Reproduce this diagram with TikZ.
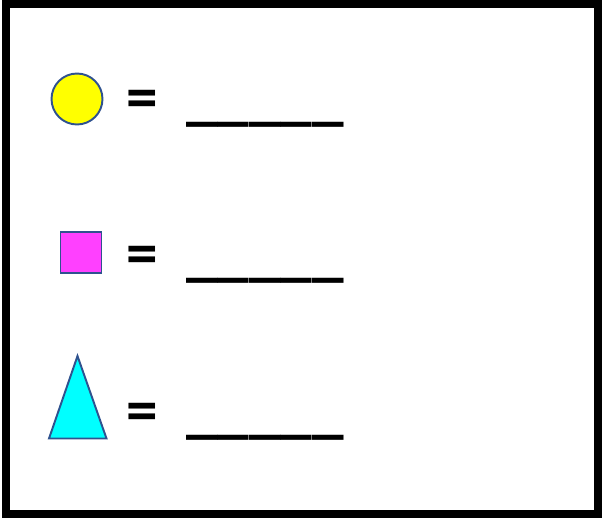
\documentclass[tikz,border=0pt]{standalone}
\usepackage{fontspec}
\setmainfont{Carlito}
\definecolor{contorno}{RGB}{47, 82, 143}
\definecolor{amarillo}{RGB}{255, 255, 0}
\definecolor{rosa}{RGB}{255, 64, 255}
\definecolor{cian}{RGB}{0, 255, 255}
\usetikzlibrary{positioning}

\begin{document}
\begin{tikzpicture}[x=0.02cm, y=-0.02cm,
      fig/.style={draw=contorno, line width=1.1pt},
      txt/.style={inner sep=0pt, anchor=base west,
                  font=\fontsize{36}{36}\selectfont\bfseries}]
      \useasboundingbox (0,0) rectangle (602,518);
      % frame
      \draw[line width=4.5pt] (6,4) rectangle (598,514);
      % Row 1: circle
      \node[fig, fill=amarillo, circle, minimum size=1.02cm, inner sep=0pt] (circulo) at (77,99) {};
      \node[txt] (eq1) at (126,118) {=};
      \node[txt] (lin1) at (186,118) {\_\_\_\_\_};
      % Row 2: square
      \node[fig, fill=rosa, minimum size=0.82cm, inner sep=0pt] (cuadro) at (81,252.5) {};
      \node[txt] (eq2) at (126,274) {=};
      \node[txt] (lin2) at (186,274) {\_\_\_\_\_};
      % Row 3: triangle
      \draw[fig, fill=cian] (77.5,356) -- (106.5,438.5) -- (49,438.5) -- cycle;
      \node[txt] (eq3) at (126,431) {=};
      \node[txt] (lin3) at (186,431) {\_\_\_\_\_};
\end{tikzpicture}
\end{document}
